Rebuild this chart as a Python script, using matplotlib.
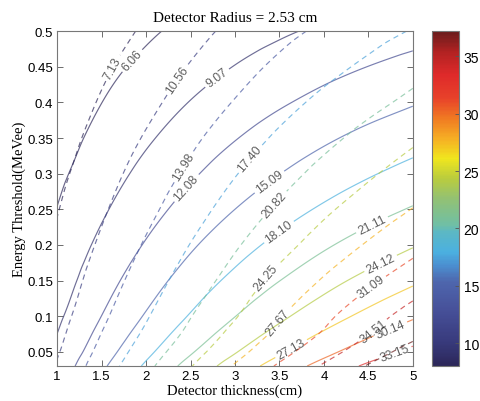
import numpy as np
import matplotlib
matplotlib.use("Agg")
import matplotlib.pyplot as plt
import matplotlib.tri as mtri
from matplotlib.colors import LinearSegmentedColormap, Normalize

# ---------------- data ----------------
thickness = [1.0, 1.5, 2.0, 2.5, 3.0, 3.5, 4.0, 4.5, 5.0]
threshold = [0.03, 0.05, 0.075, 0.10, 0.15, 0.20, 0.25, 0.30, 0.35, 0.40, 0.45, 0.50]

# quantity drawn with solid lines; one row per thickness, values along threshold
solid_vals = [
    [10.30, 9.70, 9.08, 8.54, 7.64, 6.85, 6.12, 5.46, 4.85, 4.26, 3.71, 3.10],
    [14.60, 13.75, 12.88, 12.10, 10.83, 9.71, 8.67, 7.74, 6.88, 6.04, 5.26, 4.47],
    [18.50, 17.43, 16.32, 15.34, 13.73, 12.30, 10.99, 9.81, 8.71, 7.66, 6.66, 5.66],
    [22.10, 20.82, 19.49, 18.32, 16.40, 14.70, 13.13, 11.71, 10.41, 9.15, 7.96, 6.76],
    [25.40, 23.93, 22.40, 21.06, 18.85, 16.89, 15.09, 13.46, 11.96, 10.52, 9.14, 7.77],
    [28.40, 26.75, 25.05, 23.54, 21.07, 18.89, 16.87, 15.05, 13.38, 11.76, 10.22, 8.69],
    [31.15, 29.34, 27.47, 25.82, 23.11, 20.71, 18.50, 16.51, 14.67, 12.90, 11.21, 9.53],
    [33.65, 31.70, 29.68, 27.90, 24.97, 22.38, 19.99, 17.83, 15.85, 13.93, 12.11, 10.30],
    [35.95, 33.86, 31.71, 29.80, 26.67, 23.91, 21.35, 19.05, 16.93, 14.88, 12.94, 11.00],
]
# quantity drawn with dashed lines
dashed_vals = [
    [10.82, 10.28, 9.72, 9.22, 8.40, 7.67, 6.98, 6.31, 5.67, 5.05, 4.45, 3.80],
    [15.62, 14.85, 14.04, 13.31, 12.13, 11.07, 10.10, 9.21, 8.32, 7.43, 6.58, 5.72],
    [19.98, 19.00, 17.95, 17.10, 15.65, 14.33, 13.08, 11.97, 10.84, 9.73, 8.66, 7.58],
    [24.09, 22.90, 21.63, 20.70, 19.02, 17.49, 16.02, 14.64, 13.32, 11.99, 10.75, 9.53],
    [27.94, 26.56, 25.20, 24.01, 22.15, 20.44, 18.79, 17.23, 15.67, 14.15, 12.75, 11.34],
    [31.52, 29.96, 28.43, 27.42, 25.28, 23.14, 21.34, 19.57, 17.93, 16.23, 14.61, 13.04],
    [34.89, 33.15, 31.45, 30.34, 27.96, 25.68, 23.68, 21.79, 19.95, 18.19, 16.37, 14.58],
    [38.19, 36.30, 34.43, 33.20, 30.46, 27.98, 25.79, 23.80, 21.87, 19.92, 18.04, 16.17],
    [41.34, 39.28, 37.10, 35.76, 32.80, 30.13, 27.76, 25.72, 23.70, 21.58, 19.67, 17.60],
]

solid_levels = [6.06, 9.07, 12.08, 15.09, 18.10, 21.11, 24.12, 27.13, 30.14, 33.15]
dashed_levels = [7.13, 10.56, 13.98, 17.40, 20.82, 24.25, 27.67, 31.09, 34.51, 37.94]
dashed_labelled = [7.13, 10.56, 13.98, 17.40, 20.82, 24.25, 27.67, 31.09, 34.51]

xticks = [1, 1.5, 2, 2.5, 3, 3.5, 4, 4.5, 5]
xticklabels = ["1", "1.5", "2", "2.5", "3", "3.5", "4", "4.5", "5"]
yticks = [0.05, 0.1, 0.15, 0.2, 0.25, 0.3, 0.35, 0.4, 0.45, 0.5]
yticklabels = ["0.05", "0.1", "0.15", "0.2", "0.25", "0.3", "0.35", "0.4", "0.45", "0.5"]
cbar_ticks = [10, 15, 20, 25, 30, 35]
clim = (8.0, 37.2)

# label placement hints (layout only)
solid_label_pos = [(1.85, 0.458), (2.80, 0.434), (2.40, 0.286), (3.36, 0.293),
                   (3.49, 0.219), (4.55, 0.226), (4.65, 0.171), (3.62, 0.057),
                   (4.76, 0.078), (4.80, 0.046)]
dashed_label_pos = [(1.63, 0.448), (2.36, 0.431), (2.42, 0.310), (3.17, 0.321),
                    (3.43, 0.258), (3.34, 0.155), (3.47, 0.093), (4.52, 0.143),
                    (4.45, 0.096)]

# ---------------- colormap ----------------
cmap = LinearSegmentedColormap.from_list("bar", [
    (0.00, "#2c2759"), (0.07, "#383a7c"), (0.17, "#47519a"), (0.25, "#4e66ad"),
    (0.30, "#4b8fd0"), (0.34, "#4bb0e0"), (0.40, "#5cb8c4"), (0.42, "#6fbfa6"),
    (0.50, "#93c173"), (0.56, "#b9cc3e"), (0.62, "#f0e61e"), (0.68, "#f6ae24"),
    (0.74, "#f07a22"), (0.80, "#e8422a"), (0.87, "#df2a2a"), (0.94, "#b12222"),
    (1.00, "#6a1c1c")])
norm = Normalize(*clim)

# ---------------- smooth surfaces from the tables ----------------
TX, TY = np.meshgrid(thickness, threshold, indexing="ij")
tri = mtri.Triangulation(TX.ravel(), TY.ravel() * 10.0)
xf = np.linspace(1, 5, 201)
yf = np.linspace(0.03, 0.5, 201)
XF, YF = np.meshgrid(xf, yf)


def surface(vals):
    z = np.asarray(vals, float).ravel()
    interp = mtri.CubicTriInterpolator(tri, z, kind="geom")
    return np.ma.filled(interp(XF, YF * 10.0), np.nan)


plt.rcParams["font.family"] = ["Liberation Sans", "DejaVu Sans"]
fig = plt.figure(figsize=(4.8, 4.02), dpi=100)
ax = fig.add_axes([0.119, 0.087, 0.741, 0.833])
cax = fig.add_axes([0.900, 0.087, 0.056, 0.833])

lw = 0.85
cs_s = ax.contour(XF, YF, surface(solid_vals), levels=solid_levels, cmap=cmap,
                  norm=norm, linewidths=lw, linestyles="solid", alpha=0.7)
cs_d = ax.contour(XF, YF, surface(dashed_vals), levels=dashed_levels, cmap=cmap,
                  norm=norm, linewidths=lw, linestyles=[(0, (4.5, 3.5))], alpha=0.7)

fmt_s = {lv: f"{lv:.2f}" for lv in solid_levels}
fmt_d = {lv: f"{lv:.2f}" for lv in dashed_levels}
ax.clabel(cs_s, fmt=fmt_s, fontsize=8.8, colors="#1a1a1a", inline=True,
          inline_spacing=3, manual=solid_label_pos)
ax.clabel(cs_d, levels=dashed_labelled, fmt=fmt_d, fontsize=8.8, colors="#1a1a1a",
          inline=True, inline_spacing=3, manual=dashed_label_pos)

ax.set_xlim(1, 5)
ax.set_ylim(0.03, 0.5)
ax.set_xticks(xticks)
ax.set_xticklabels(xticklabels)
ax.set_yticks(yticks)
ax.set_yticklabels(yticklabels)
ax.tick_params(direction="in", top=True, right=True, length=4, width=0.6,
               labelsize=9.5, color="#555555", pad=3)
for sp in ax.spines.values():
    sp.set_color("#777777")
    sp.set_linewidth(0.8)

ax.set_title("Detector Radius = 2.53 cm", family="Liberation Serif", fontsize=11, pad=7)
ax.set_xlabel("Detector thickness(cm)", family="Liberation Serif", fontsize=10.5, labelpad=1)
ax.set_ylabel("Energy Threshold(MeVee)", family="Liberation Serif", fontsize=10.5, labelpad=1)

sm = matplotlib.cm.ScalarMappable(norm=norm, cmap=cmap)
cb = fig.colorbar(sm, cax=cax, ticks=cbar_ticks)
cb.ax.tick_params(direction="in", length=3, width=0.6, labelsize=10, color="#555555")
cb.outline.set_edgecolor("#777777")
cb.outline.set_linewidth(0.8)

fig.savefig("out.png", dpi=100)
